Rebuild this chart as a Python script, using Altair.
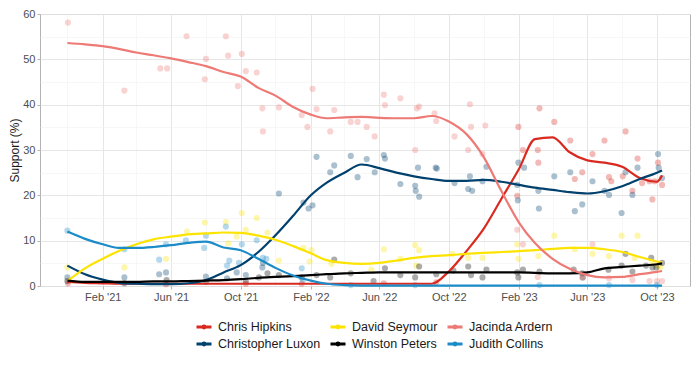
import altair as alt
import pandas as pd

# ---- candidates, colours (legend order is row-major, 3 columns) ----
candidates_alpha = ["Chris Hipkins", "Christopher Luxon", "David Seymour",
                    "Winston Peters", "Jacinda Ardern", "Judith Collins"]
legend_order = ["Chris Hipkins", "David Seymour", "Jacinda Ardern",
                "Christopher Luxon", "Winston Peters", "Judith Collins"]
legend_colors = ["#D82A20", "#FDE300", "#EE7A76", "#00416E", "#000000", "#1C8CC9"]

# ---- smoothed trend lines (read at month starts, Dec 2020 .. Oct 2023, + last poll) ----
line_dates = (["2020-12-01"]
              + [f"2021-{m:02d}-01" for m in range(1, 13)]
              + [f"2022-{m:02d}-01" for m in range(1, 13)]
              + [f"2023-{m:02d}-01" for m in range(1, 11)]
              + ["2023-10-10"])

hipkins_line = [0.9, 0.7, 0.6, 0.5, 0.5, 0.5, 0.5, 0.5, 0.5, 0.5, 0.5, 0.5, 0.5,
                0.5, 0.5, 0.5, 0.5, 0.5, 0.5, 0.5, 0.5, 0.5, 3.2, 7.7, 12.6,
                19.2, 25.8, 32.4, 32.8, 29.5, 27.7, 27.2, 26.3, 23.8, 23.0, 24.4]
luxon_line = [4.5, 2.6, 1.4, 0.7, 0.5, 0.4, 0.4, 0.6, 1.3, 3.0, 4.6, 7.5, 11.2,
              15.5, 20.0, 22.8, 25.0, 26.8, 26.0, 25.0, 24.2, 23.6, 23.2, 23.2, 23.4,
              23.0, 22.3, 21.7, 21.2, 20.7, 20.4, 20.9, 22.0, 23.6, 25.0, 25.5]
seymour_line = [1.1, 3.9, 6.0, 7.7, 9.2, 10.3, 10.9, 11.4, 11.6, 11.8, 11.7, 11.1, 10.2,
                8.8, 7.2, 5.7, 5.1, 4.9, 5.1, 5.6, 6.2, 6.6, 6.8, 7.1, 7.3,
                7.5, 7.7, 7.9, 8.2, 8.4, 8.4, 8.1, 7.5, 6.4, 5.4, 5.1]
peters_line = [1.2, 0.9, 0.9, 0.9, 0.9, 1.0, 1.0, 1.1, 1.2, 1.3, 1.5, 1.8, 2.0,
               2.2, 2.4, 2.6, 2.8, 2.9, 3.0, 3.0, 3.0, 3.0, 3.0, 3.0, 3.0,
               3.0, 3.0, 2.9, 2.8, 2.8, 3.0, 3.9, 4.2, 4.5, 4.8, 5.0]
ardern_line = [53.6, 53.3, 52.9, 52.3, 51.5, 50.9, 50.2, 49.4, 48.5, 47.2, 46.2, 43.7, 42.0,
               39.5, 37.8, 37.0, 37.2, 37.3, 37.1, 37.0, 37.0, 37.5, 36.3, 33.5, 28.5,
               21.0, 14.0, 9.5, 6.0, 3.8, 2.4, 1.9, 2.0, 2.6, 3.1, 3.3]
collins_line = [12.0, 10.4, 9.2, 8.4, 8.4, 8.6, 9.0, 9.5, 9.8, 8.5, 7.9, 6.0, 4.0,
                2.3, 1.2, 0.5, 0.2, 0.1, 0.1, 0.1, 0.1, 0.1, 0.1, 0.1, 0.1,
                0.1, 0.1, 0.1, 0.1, 0.1, 0.1, 0.1, 0.1, 0.1, 0.1, 0.1]

# ---- individual polls ----
hipkins_dates = ["2020-12-02", "2021-05-23", "2021-10-10", "2022-01-16", "2022-06-09", "2022-09-09",
                 "2023-01-29", "2023-01-31", "2023-02-08", "2023-03-06", "2023-03-07", "2023-03-09",
                 "2023-04-04", "2023-05-02", "2023-05-10", "2023-05-23", "2023-06-10", "2023-07-01",
                 "2023-07-09", "2023-07-13", "2023-08-02", "2023-08-07", "2023-08-19", "2023-08-28",
                 "2023-09-05", "2023-09-18", "2023-09-23", "2023-09-27", "2023-10-03", "2023-10-10"]
hipkins_vals = [0.6, 0.4, 0.5, 0.5, 0.6, 0.8,
                19.9, 35.1, 30.0, 30.0, 27.2, 39.2,
                36.2, 32.1, 23.6, 25.1, 29.1, 32.1,
                24.0, 23.1, 24.2, 34.1, 21.0, 28.1,
                22.7, 23.1, 19.1, 23.1, 27.2, 22.3]

luxon_dates = ["2020-12-01", "2021-03-11", "2021-05-11", "2021-05-23", "2021-08-01", "2021-09-07",
               "2021-09-24", "2021-10-10", "2021-11-08", "2021-11-09", "2021-12-07", "2022-01-19",
               "2022-01-28", "2022-02-04", "2022-02-11", "2022-03-07", "2022-03-14", "2022-04-12",
               "2022-04-24", "2022-05-10", "2022-05-24", "2022-06-09", "2022-06-11", "2022-07-08",
               "2022-08-03", "2022-08-04", "2022-08-08", "2022-08-10", "2022-09-08", "2022-09-10",
               "2022-10-11", "2022-11-04", "2022-11-07", "2022-11-11", "2022-11-29", "2022-12-06",
               "2023-01-29", "2023-01-30", "2023-01-31", "2023-02-10", "2023-03-07", "2023-03-08",
               "2023-04-04", "2023-05-02", "2023-05-10", "2023-05-23", "2023-06-10", "2023-07-01",
               "2023-07-09", "2023-07-31", "2023-08-07", "2023-08-19", "2023-08-28", "2023-10-03",
               "2023-10-04", "2023-10-10"]
luxon_vals = [1.9, 1.9, 2.6, 3.0, 2.1, 1.7,
              3.0, 2.4, 4.1, 5.1, 20.4, 18.4,
              17.1, 17.8, 28.5, 25.1, 26.6, 28.7,
              24.0, 28.0, 25.1, 28.9, 28.1, 22.5,
              22.1, 21.0, 26.1, 19.7, 26.1, 25.9,
              22.7, 21.4, 24.2, 21.0, 23.1, 26.3,
              22.3, 18.9, 27.2, 26.1, 21.0, 17.1,
              24.2, 25.1, 16.5, 18.0, 23.1, 21.0,
              20.1, 16.1, 25.1, 20.1, 26.1, 29.1,
              26.1, 23.8]

seymour_dates = ["2020-12-01", "2021-03-11", "2021-05-23", "2021-06-29", "2021-07-30", "2021-09-05",
                 "2021-09-09", "2021-09-24", "2021-10-03", "2021-10-10", "2021-10-29", "2021-11-17",
                 "2021-12-07", "2022-01-19", "2022-01-30", "2022-02-02", "2022-03-09", "2022-05-18",
                 "2022-06-09", "2022-07-08", "2022-08-03", "2022-08-05", "2022-08-10", "2022-10-07",
                 "2022-11-04", "2022-11-29", "2023-01-29", "2023-01-31", "2023-03-07", "2023-04-04",
                 "2023-05-10", "2023-06-10", "2023-07-09", "2023-07-31", "2023-08-23", "2023-08-28",
                 "2023-09-23", "2023-10-03", "2023-10-07"]
seymour_vals = [4.1, 4.1, 6.0, 12.0, 14.0, 14.1,
                9.4, 10.9, 16.1, 12.4, 15.0, 11.8,
                5.6, 8.4, 5.4, 7.9, 4.9, 3.6,
                8.1, 6.0, 9.0, 4.5, 7.9, 7.1,
                6.2, 6.2, 9.2, 6.0, 6.6, 11.1,
                8.1, 7.1, 6.6, 11.1, 6.2, 11.1,
                4.9, 4.5, 4.1]

peters_dates = ["2020-12-01", "2021-03-11", "2021-05-24", "2021-08-01", "2021-10-10", "2021-11-02",
                "2021-11-17", "2021-12-07", "2022-01-16", "2022-02-11", "2022-03-07", "2022-03-14",
                "2022-04-12", "2022-05-22", "2022-06-11", "2022-07-08", "2022-08-03", "2022-08-10",
                "2022-09-09", "2022-10-09", "2022-11-04", "2022-11-09", "2022-11-29", "2022-12-06",
                "2023-01-29", "2023-01-31", "2023-02-08", "2023-03-09", "2023-05-08", "2023-05-23",
                "2023-05-24", "2023-07-08", "2023-07-31", "2023-08-07", "2023-08-19", "2023-09-12",
                "2023-09-21", "2023-09-23", "2023-09-30", "2023-10-10"]
peters_vals = [1.1, 0.6, 1.3, 0.9, 1.0, 1.9,
               2.8, 2.4, 1.9, 2.4, 1.9, 5.8,
               2.8, 1.1, 3.9, 2.4, 1.9, 4.3,
               2.6, 3.4, 4.3, 2.4, 1.9, 3.6,
               3.0, 1.9, 3.6, 3.2, 3.6, 2.8,
               1.9, 3.6, 4.5, 7.1, 3.2, 4.5,
               6.2, 4.1, 4.1, 5.1]

ardern_dates = ["2020-12-02", "2021-03-11", "2021-05-13", "2021-05-25", "2021-06-28", "2021-07-30",
                "2021-08-01", "2021-09-05", "2021-09-09", "2021-09-26", "2021-10-03", "2021-10-10",
                "2021-10-29", "2021-11-08", "2021-11-09", "2021-12-07", "2022-01-16", "2022-01-26",
                "2022-02-04", "2022-02-11", "2022-03-07", "2022-03-14", "2022-04-12", "2022-04-24",
                "2022-05-10", "2022-05-24", "2022-06-09", "2022-06-11", "2022-07-08", "2022-08-03",
                "2022-08-06", "2022-08-10", "2022-09-06", "2022-09-09", "2022-10-11", "2022-11-04",
                "2022-11-07", "2022-11-09", "2022-11-29", "2022-12-04", "2023-01-29", "2023-02-08",
                "2023-03-06", "2023-05-23", "2023-06-10", "2023-07-09", "2023-08-19", "2023-09-18",
                "2023-10-01", "2023-10-10"]
ardern_vals = [58.1, 43.1, 48.0, 48.0, 55.1, 45.6,
               50.1, 55.1, 50.8, 44.1, 51.2, 47.4,
               47.1, 39.2, 34.1, 39.4, 37.7, 35.1,
               43.5, 39.0, 34.1, 38.8, 36.2, 36.2,
               35.1, 33.0, 42.2, 39.9, 41.4, 30.0,
               39.2, 39.6, 38.1, 36.4, 33.0, 30.0,
               40.1, 35.1, 29.1, 35.4, 12.4, 9.2,
               2.0, 1.9, 9.2, 1.7, 1.3, 1.1,
               1.1, 1.1]

collins_dates = ["2020-12-01", "2021-03-11", "2021-05-11", "2021-05-23", "2021-06-27", "2021-07-29",
                 "2021-08-01", "2021-09-05", "2021-09-07", "2021-09-11", "2021-09-28", "2021-10-03",
                 "2021-10-29", "2021-11-09", "2021-11-15", "2022-01-16", "2022-01-18", "2022-04-12",
                 "2022-08-03", "2023-03-09", "2023-07-09", "2023-10-01"]
collins_vals = [12.2, 8.1, 5.8, 9.2, 10.1, 8.4,
                11.1, 13.1, 4.5, 5.6, 5.1, 9.2,
                10.1, 6.2, 6.0, 3.9, 1.3, 0.2,
                0.2, 0.2, 0.2, 0.2]

# ---- assemble tables (alphabetical order = drawing order) ----
line_series = {"Chris Hipkins": hipkins_line, "Christopher Luxon": luxon_line,
               "David Seymour": seymour_line, "Winston Peters": peters_line,
               "Jacinda Ardern": ardern_line, "Judith Collins": collins_line}
point_series = {"Chris Hipkins": (hipkins_dates, hipkins_vals),
                "Christopher Luxon": (luxon_dates, luxon_vals),
                "David Seymour": (seymour_dates, seymour_vals),
                "Winston Peters": (peters_dates, peters_vals),
                "Jacinda Ardern": (ardern_dates, ardern_vals),
                "Judith Collins": (collins_dates, collins_vals)}

line_rows = []
for c in candidates_alpha:
    for d, v in zip(line_dates, line_series[c]):
        line_rows.append({"candidate": c, "date": d, "support": v})
pt_rows = []
for c in candidates_alpha:
    ds, vs = point_series[c]
    for d, v in zip(ds, vs):
        pt_rows.append({"candidate": c, "date": d, "support": v})
lines_df = pd.DataFrame(line_rows)
pts_df = pd.DataFrame(pt_rows)

# ---- axes ----
x_tick_values = [alt.DateTime(year=y, month=m, date=1, utc=True)
                 for (y, m) in [(2020, 12), (2021, 2), (2021, 4), (2021, 6), (2021, 8), (2021, 10),
                                (2021, 12), (2022, 2), (2022, 4), (2022, 6), (2022, 8), (2022, 10),
                                (2022, 12), (2023, 2), (2023, 4), (2023, 6), (2023, 8), (2023, 10)]]
y_tick_values = [0, 5, 10, 15, 20, 25, 30, 35, 40, 45, 50, 55, 60]

major_x = "utcmonth(datum.value) % 4 == 1"
major_y = "datum.value % 10 == 0"

x_enc = alt.X(
    "date:T",
    title=None,
    scale=alt.Scale(type="utc",
                    domain=[alt.DateTime(year=2020, month=10, date=14, utc=True),
                            alt.DateTime(year=2023, month=11, date=28, utc=True)]),
    axis=alt.Axis(values=x_tick_values,
                  labelExpr=f"{major_x} ? utcFormat(datum.value, \"%b '%y\") : ''",
                  gridColor={"condition": {"test": major_x, "value": "#e3e3e3"}, "value": "#f1f1f1"},
                  gridWidth={"condition": {"test": major_x, "value": 0.9}, "value": 0.6},
                  tickOpacity={"condition": {"test": major_x, "value": 1}, "value": 0},
                  tickColor="#b3b3b3", tickSize=3, domain=False,
                  labelColor="#4d4d4d", labelFontSize=11, labelPadding=2, labelFlush=False),
)
y_enc = alt.Y(
    "support:Q",
    title="Support (%)",
    scale=alt.Scale(domain=[0, 60], nice=False, zero=True),
    axis=alt.Axis(values=y_tick_values,
                  labelExpr=f"{major_y} ? datum.label : ''",
                  gridColor={"condition": {"test": major_y, "value": "#e3e3e3"}, "value": "#f1f1f1"},
                  gridWidth={"condition": {"test": major_y, "value": 0.9}, "value": 0.6},
                  tickOpacity={"condition": {"test": major_y, "value": 1}, "value": 0},
                  tickColor="#b3b3b3", tickSize=3, domain=False,
                  labelColor="#4d4d4d", labelFontSize=11, labelPadding=2,
                  titleFontSize=12, titleFontWeight="normal", titleColor="#1a1a1a", titlePadding=1),
)

legend_symbol = "M-1,0L1,0M-0.13,0A0.13,0.13,0,1,0,0.13,0A0.13,0.13,0,1,0,-0.13,0Z"
color_scale = alt.Scale(domain=legend_order, range=legend_colors)
legend = alt.Legend(title=None, orient="none", legendX=155, legendY=304,
                    direction="horizontal",
                    columns=3, columnPadding=3, rowPadding=1,
                    symbolType=legend_symbol, symbolSize=225,
                    symbolStrokeWidth=3, symbolOpacity=1,
                    labelFontSize=12.5, labelColor="#1a1a1a",
                    labelOffset=5)

points = alt.Chart(pts_df).mark_circle(size=38, opacity=0.33).encode(
    x=x_enc, y=y_enc,
    color=alt.Color("candidate:N", scale=color_scale, legend=legend),
)

lines = alt.Chart(lines_df).mark_line(strokeWidth=2.2, interpolate="monotone").encode(
    x=x_enc, y=y_enc,
    color=alt.Color("candidate:N", scale=color_scale, legend=legend),
    detail="candidate:N",
)

chart = alt.layer(points, lines).properties(
    width=650, height=272,
    autosize=alt.AutoSizeParams(type="none"),
    padding={"left": 32, "top": 6, "right": 2, "bottom": 72},
).configure(
    font="Liberation Sans",
).configure_view(
    stroke="#b3b3b3", strokeWidth=1,
)

chart.save("out.html", embed_options={"renderer": "svg", "actions": False})
